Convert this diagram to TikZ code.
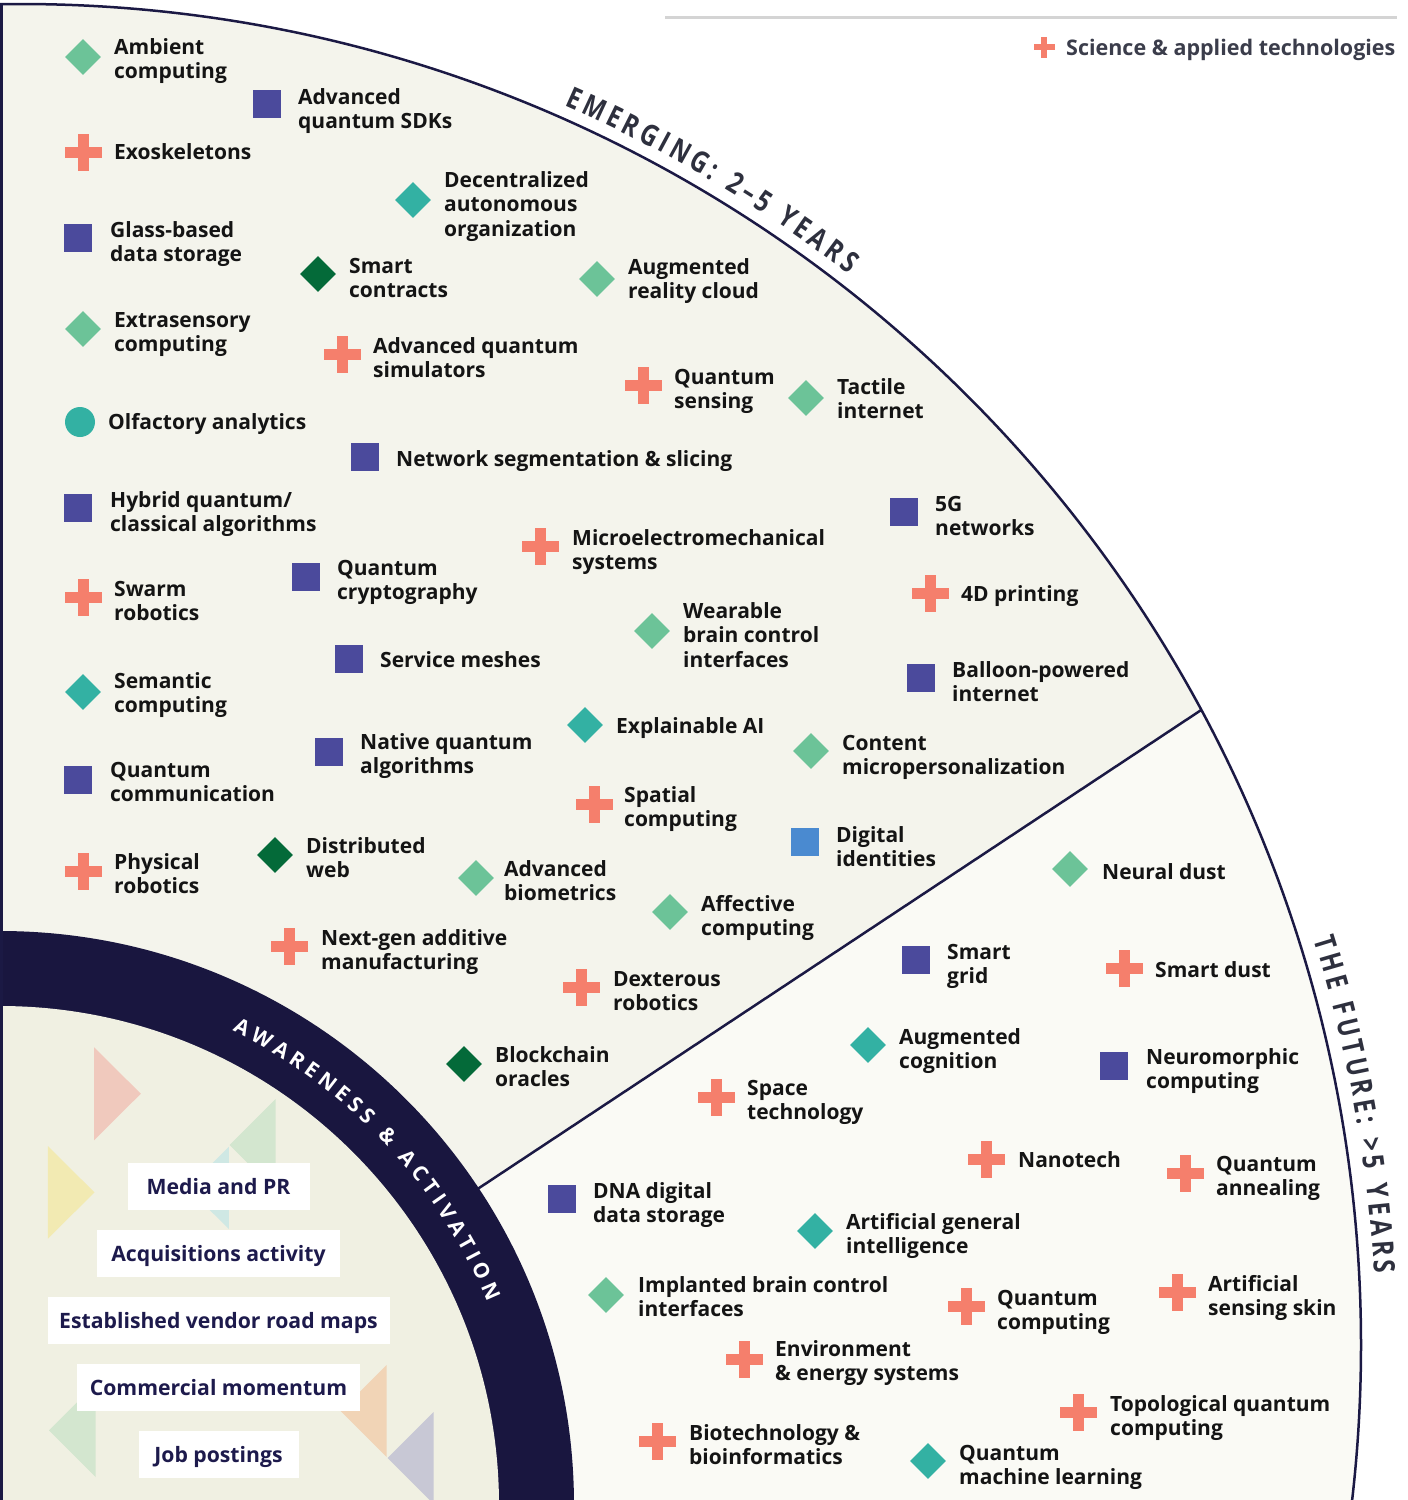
\documentclass[tikz,border=0pt]{standalone}
\usepackage{fontspec}
\setmainfont{Open Sans}
\newfontfamily\condfont[FakeStretch=0.8]{Open Sans}
\usetikzlibrary{shapes.geometric}

\definecolor{navy}{HTML}{1B1944}
\definecolor{ringc}{HTML}{19163F}
\definecolor{emc}{HTML}{F4F4EC}
\definecolor{futc}{HTML}{FAFAF5}
\definecolor{innc}{HTML}{F0F0E2}
\definecolor{sqc}{HTML}{4B4A9C}
\definecolor{sbc}{HTML}{4A8AD0}
\definecolor{plusc}{HTML}{F57F6C}
\definecolor{dlc}{HTML}{6CC398}
\definecolor{dtc}{HTML}{33B1A3}
\definecolor{ddc}{HTML}{046A39}
\definecolor{txtc}{HTML}{141414}
\definecolor{boxtxt}{HTML}{1D1A4C}
\definecolor{titc}{HTML}{2E303E}
\definecolor{legc}{HTML}{3B3D4B}
\definecolor{legline}{HTML}{D4D4D4}
\definecolor{tpink}{HTML}{F0C9BD}
\definecolor{tgreen}{HTML}{D3E6CF}
\definecolor{tteal}{HTML}{CFE8E4}
\definecolor{tyel}{HTML}{F2EAB2}
\definecolor{torange}{HTML}{F1D4B6}
\definecolor{tgray}{HTML}{C8C8D5}

\newdimen\chwd
\newcommand\lbl[1]{\begin{tabular}[t]{@{}l@{}}#1\end{tabular}}
% #1 cx, #2 cy, #3 baseline radius, #4 start angle, #5 tracking, #6 font, #7 colour, #8 name prefix, #9 chars
\makeatletter
\newcommand\arctext[9]{%
  \xdef\curang{#4}%
  \foreach \ch [count=\ci] in {#9} {%
    \node[inner sep=0pt, font=#6, anchor=base west] (#8w\ci) at (0,0) {\phantom{\ch}};
    \pgfextractx{\chwd}{\pgfpointdiff{\pgfpointanchor{#8w\ci}{west}}{\pgfpointanchor{#8w\ci}{east}}}%
    \edef\wval{\strip@pt\chwd}%
    \pgfmathsetmacro\cang{\curang - (\wval/2)/(#3)*180/pi}%
    \pgfmathsetmacro\nang{\curang - (\wval + #5)/(#3)*180/pi}%
    \node[anchor=base, inner sep=0pt, text=#7, font=#6, rotate=\cang-90]
      (#8-\ci) at ({#1+#3*cos(\cang)},{#2-#3*sin(\cang)}) {\ch};
    \xdef\curang{\nang}%
  }%
}
\makeatother

\tikzset{
  lab/.style={anchor=base west, inner sep=0pt, text=txtc,
    font=\bfseries\fontsize{21}{24.5}\selectfont},
  sqm/.style={rectangle, fill=sqc, minimum size=28pt, inner sep=0pt},
  sbm/.style={sqm, fill=sbc},
  dlm/.style={diamond, fill=dlc, minimum size=36pt, inner sep=0pt},
  dtm/.style={dlm, fill=dtc},
  ddm/.style={dlm, fill=ddc},
  cim/.style={circle, fill=dtc, minimum size=30pt, inner sep=0pt},
  sig/.style={fill=white, minimum height=47pt, inner sep=0pt, text=boxtxt,
    text height=17pt, text depth=0pt,
    font=\bfseries\fontsize{21.2}{24}\selectfont},
  edgeline/.style={draw=navy, line width=2.5pt},
  plusmark/.pic={
    \fill[plusc] (-18.5,-5.5) rectangle (18.5,5.5);
    \fill[plusc] (-5.5,-18.5) rectangle (5.5,18.5);},
  plussmall/.pic={
    \fill[plusc] (-10.5,-3.2) rectangle (10.5,3.2);
    \fill[plusc] (-3.2,-10.5) rectangle (3.2,10.5);}
}

\begin{document}
\begin{tikzpicture}[x=1pt,y=-1pt]
\useasboundingbox (0,0) rectangle (1408,1500);
\fill[white] (0,0) rectangle (1408,1500);

% sector backgrounds
\begin{scope}
  \clip (0,0) rectangle (1408,1500);
  \clip (20,1345) circle[radius=1341pt];
  \fill[futc] (0,0) rectangle (1408,1500);
  \fill[emc] (0,1505) -- ++(-33.5:3000) -- (2600,-200) -- (0,-200) -- cycle;
\end{scope}

% inner ring and signals area
\begin{scope}
  \clip (0,0) rectangle (1408,1500);
  \fill[ringc] (0,1505) circle[radius=574pt];
  \fill[innc] (0,1505) circle[radius=499pt];
  \fill[tpink] (94.1,1047.3) -- (94.1,1140.3) -- (140.8,1093.7) -- cycle;
  \fill[tgreen] (275.5,1099) -- (275.5,1190.9) -- (229.6,1144.9) -- cycle;
  \fill[tteal] (228.9,1146.8) -- (228.9,1229.1) -- (187.5,1187.8) -- cycle;
  \fill[tyel] (47.8,1146) -- (47.8,1238.7) -- (94.5,1192.4) -- cycle;
  \fill[tgreen] (95.7,1383.7) -- (95.7,1477.1) -- (49,1430.4) -- cycle;
  \fill[torange] (386.5,1365) -- (386.5,1456.8) -- (340.6,1410.9) -- cycle;
  \fill[tgray] (433.6,1412) -- (433.6,1504) -- (387.7,1458) -- cycle;
\end{scope}

% outlines
\coordinate (dA) at (478.6,1188.3);
\coordinate (dJ) at (1201.2,710.0);
\draw[edgeline] (dA) -- (dJ);
\begin{scope}
  \clip (0,0) rectangle (1408,1500);
  \draw[edgeline] (20,1345) circle[radius=1341pt];
\end{scope}
\draw[navy, line width=3pt] (1.5,4) -- (1.5,1500);

% legend
\draw[legline, line width=3pt] (665,17) -- (1397,17);
\pic (lp) at (1044,47) {plussmall};
\node[anchor=base west, inner sep=0pt, text=legc,
  font=\bfseries\fontsize{21.5}{24}\selectfont] (leg) at (1066,55) {Science \& applied technologies};

% curved titles
\arctext{20}{1345}{1354}{66.3}{3.8}{\condfont\bfseries\fontsize{29.5}{29.5}\selectfont}{titc}{em}{E,M,E,R,G,I,N,G,:,~,2,–,5,~,Y,E,A,R,S}
\arctext{20}{1345}{1356}{17.4}{3.8}{\condfont\bfseries\fontsize{29.5}{29.5}\selectfont}{titc}{fu}{T,H,E,~,F,U,T,U,R,E,:,~,>,5,~,Y,E,A,R,S}
\arctext{0}{1505}{528}{63.9}{4.3}{\bfseries\fontsize{21}{21}\selectfont}{white}{aw}{A,W,A,R,E,N,E,S,S,~,\&,~,A,C,T,I,V,A,T,I,O,N}

% signal boxes
\node[sig, minimum width=182pt] (s1) at (218.5,1186) {Media and PR};
\node[sig, minimum width=243pt] (s2) at (218.5,1253) {Acquisitions activity};
\node[sig, minimum width=342pt] (s3) at (218.5,1320) {Established vendor road maps};
\node[sig, minimum width=283pt] (s4) at (218.5,1387) {Commercial momentum};
\node[sig, minimum width=160pt] (s5) at (218.5,1454) {Job postings};

% ---- Emerging items ----
\node[dlm] (m1) at (83,57) {};      \node[lab] (l1) at (114,54) {\lbl{Ambient\\computing}};
\node[sqm] (m2) at (267,104) {};    \node[lab] (l2) at (298,104) {\lbl{Advanced\\quantum SDKs}};
\pic (m3) at (83,152) {plusmark};   \node[lab] (l3) at (114,159) {\lbl{Exoskeletons}};
\node[dtm] (m4) at (413,200) {};    \node[lab] (l4) at (444,187) {\lbl{Decentralized\\autonomous\\organization}};
\node[sqm] (m5) at (78,238) {};     \node[lab] (l5) at (110,237) {\lbl{Glass-based\\data storage}};
\node[ddm] (m6) at (318,274) {};    \node[lab] (l6) at (349,273) {\lbl{Smart\\contracts}};
\node[dlm] (m7) at (597,279) {};    \node[lab] (l7) at (628,274) {\lbl{Augmented\\reality cloud}};
\node[dlm] (m8) at (83,329) {};     \node[lab] (l8) at (114,327) {\lbl{Extrasensory\\computing}};
\pic (m9) at (342,354) {plusmark};  \node[lab] (l9) at (373,353) {\lbl{Advanced quantum\\simulators}};
\pic (m10) at (643,385) {plusmark}; \node[lab] (l10) at (674,384) {\lbl{Quantum\\sensing}};
\node[dlm] (m11) at (806,398) {};   \node[lab] (l11) at (837,394) {\lbl{Tactile\\internet}};
\node[cim] (m12) at (80,422) {};    \node[lab] (l12) at (108,429) {\lbl{Olfactory analytics}};
\node[sqm] (m13) at (365,457) {};   \node[lab] (l13) at (396,466) {\lbl{Network segmentation \& slicing}};
\node[sqm] (m14) at (78,508) {};    \node[lab] (l14) at (110,507) {\lbl{Hybrid quantum/\\classical algorithms}};
\pic (m15) at (540,546) {plusmark}; \node[lab] (l15) at (572,545) {\lbl{Microelectromechanical\\systems}};
\node[sqm] (m16) at (904,512) {};   \node[lab] (l16) at (935,511) {\lbl{5G\\networks}};
\pic (m17) at (83,597) {plusmark};  \node[lab] (l17) at (114,596) {\lbl{Swarm\\robotics}};
\node[sqm] (m18) at (306,577) {};   \node[lab] (l18) at (337,575) {\lbl{Quantum\\cryptography}};
\pic (m19) at (930,593) {plusmark}; \node[lab] (l19) at (961,601) {\lbl{4D printing}};
\node[dlm] (m20) at (652,631) {};   \node[lab] (l20) at (683,618) {\lbl{Wearable\\brain control\\interfaces}};
\node[sqm] (m21) at (349,659) {};   \node[lab] (l21) at (380,667) {\lbl{Service meshes}};
\node[sqm] (m22) at (921,678) {};   \node[lab] (l22) at (952,677) {\lbl{Balloon-powered\\internet}};
\node[dtm] (m23) at (83,692) {};    \node[lab] (l23) at (114,688) {\lbl{Semantic\\computing}};
\node[dtm] (m24) at (585,725) {};   \node[lab] (l24) at (616,733) {\lbl{Explainable AI}};
\node[sqm] (m25) at (329,752) {};   \node[lab] (l25) at (360,749) {\lbl{Native quantum\\algorithms}};
\node[dlm] (m26) at (811,751) {};   \node[lab] (l26) at (842,750) {\lbl{Content\\micropersonalization}};
\node[sqm] (m27) at (78,780) {};    \node[lab] (l27) at (110,777) {\lbl{Quantum\\communication}};
\pic (m28) at (594,804) {plusmark}; \node[lab] (l28) at (624,802) {\lbl{Spatial\\computing}};
\node[sbm] (m29) at (805,842) {};   \node[lab] (l29) at (836,842) {\lbl{Digital\\identities}};
\pic (m30) at (83,871) {plusmark};  \node[lab] (l30) at (114,869) {\lbl{Physical\\robotics}};
\node[ddm] (m31) at (275,855) {};   \node[lab] (l31) at (306,853) {\lbl{Distributed\\web}};
\node[dlm] (m32) at (476,878) {};   \node[lab] (l32) at (504,876) {\lbl{Advanced\\biometrics}};
\node[dlm] (m33) at (670,912) {};   \node[lab] (l33) at (701,911) {\lbl{Affective\\computing}};
\pic (m34) at (289,946) {plusmark}; \node[lab] (l34) at (321,945) {\lbl{Next-gen additive\\manufacturing}};
\pic (m35) at (581,987) {plusmark}; \node[lab] (l35) at (613,986) {\lbl{Dexterous\\robotics}};
\node[ddm] (m36) at (464,1064) {};  \node[lab] (l36) at (495,1062) {\lbl{Blockchain\\oracles}};

% ---- Future items ----
\node[dlm] (m37) at (1070,869) {};  \node[lab] (l37) at (1102,879) {\lbl{Neural dust}};
\node[sqm] (m38) at (916,960) {};   \node[lab] (l38) at (947,959) {\lbl{Smart\\grid}};
\pic (m39) at (1124,968) {plusmark};\node[lab] (l39) at (1155,977) {\lbl{Smart dust}};
\node[dtm] (m40) at (868,1045) {};  \node[lab] (l40) at (899,1044) {\lbl{Augmented\\cognition}};
\node[sqm] (m41) at (1114,1066) {}; \node[lab] (l41) at (1146,1064) {\lbl{Neuromorphic\\computing}};
\pic (m42) at (716,1097) {plusmark};\node[lab] (l42) at (747,1095) {\lbl{Space\\technology}};
\pic (m43) at (986,1159) {plusmark};\node[lab] (l43) at (1018,1167) {\lbl{Nanotech}};
\pic (m44) at (1185,1173) {plusmark};\node[lab] (l44) at (1216,1171) {\lbl{Quantum\\annealing}};
\node[sqm] (m45) at (562,1199) {};  \node[lab] (l45) at (593,1198) {\lbl{DNA digital\\data storage}};
\node[dtm] (m46) at (815,1231) {};  \node[lab] (l46) at (846,1229) {\lbl{Artificial general\\intelligence}};
\node[dlm] (m47) at (606,1295) {};  \node[lab] (l47) at (638,1292) {\lbl{Implanted brain control\\interfaces}};
\pic (m48) at (966,1306) {plusmark};\node[lab] (l48) at (997,1305) {\lbl{Quantum\\computing}};
\pic (m49) at (1177,1292) {plusmark};\node[lab] (l49) at (1208,1291) {\lbl{Artificial\\sensing skin}};
\pic (m50) at (744,1359) {plusmark};\node[lab] (l50) at (775,1356) {\lbl{Environment\\\& energy systems}};
\pic (m51) at (1078,1412) {plusmark};\node[lab] (l51) at (1110,1411) {\lbl{Topological quantum\\computing}};
\pic (m52) at (657,1441) {plusmark};\node[lab] (l52) at (689,1440) {\lbl{Biotechnology \&\\bioinformatics}};
\node[dtm] (m53) at (928,1461) {};  \node[lab] (l53) at (959,1460) {\lbl{Quantum\\machine learning}};
\end{tikzpicture}
\end{document}
